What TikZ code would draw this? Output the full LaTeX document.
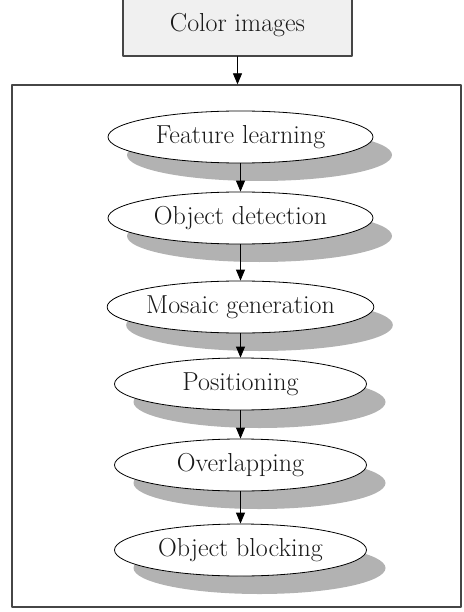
\documentclass[tikz,border=0pt]{standalone}
\usetikzlibrary{shapes.geometric,shadows,arrows.meta}

\definecolor{boxgray}{RGB}{240,240,240}
\definecolor{shadegray}{RGB}{178,178,178}
\definecolor{framegray}{RGB}{70,70,70}

\begin{document}
\begin{tikzpicture}[x=1pt, y=-1pt, line cap=round, line join=round,
  every node/.style={font=\fontsize{26}{30}\selectfont, text=black!90},
  inbox/.style={draw=framegray, line width=1.3pt, fill=boxgray,
    minimum width=229pt, minimum height=62pt, inner sep=0pt},
  outer/.style={draw=framegray, line width=1.3pt,
    minimum width=449pt, minimum height=522pt, inner sep=0pt},
  stage/.style={ellipse, draw, line width=0.8pt, fill=white, inner sep=0pt,
    minimum height=52pt,
    drop shadow={shadow xshift=19pt, shadow yshift=-18pt, fill=shadegray, opacity=1}},
  flow/.style={-{Triangle[length=11pt,width=9pt]}, line width=0.8pt}]

\useasboundingbox (0,0) rectangle (463,612);

% input box, cut at the top edge
\node[inbox] (img) at (237.5,25) {Color images};

% frame round the pipeline
\node[outer] (frame) at (236.5,346) {};

% stages
\foreach \name/\y/\w/\txt in {fl/137/265/Feature learning,
    od/218/265/Object detection, mg/307/265/Mosaic generation,
    po/384/252/Positioning, ov/465/252/Overlapping, ob/550/252/Object blocking}
  \node[stage, minimum width=\w pt] (\name) at (240.5,\y) {\txt};

% arrows
\draw[flow] (img.south) -- (img.south |- frame.north);
\foreach \a/\b in {fl/od, od/mg, mg/po, po/ov, ov/ob}
  \draw[flow] (\a) -- (\b);

\end{tikzpicture}
\end{document}
